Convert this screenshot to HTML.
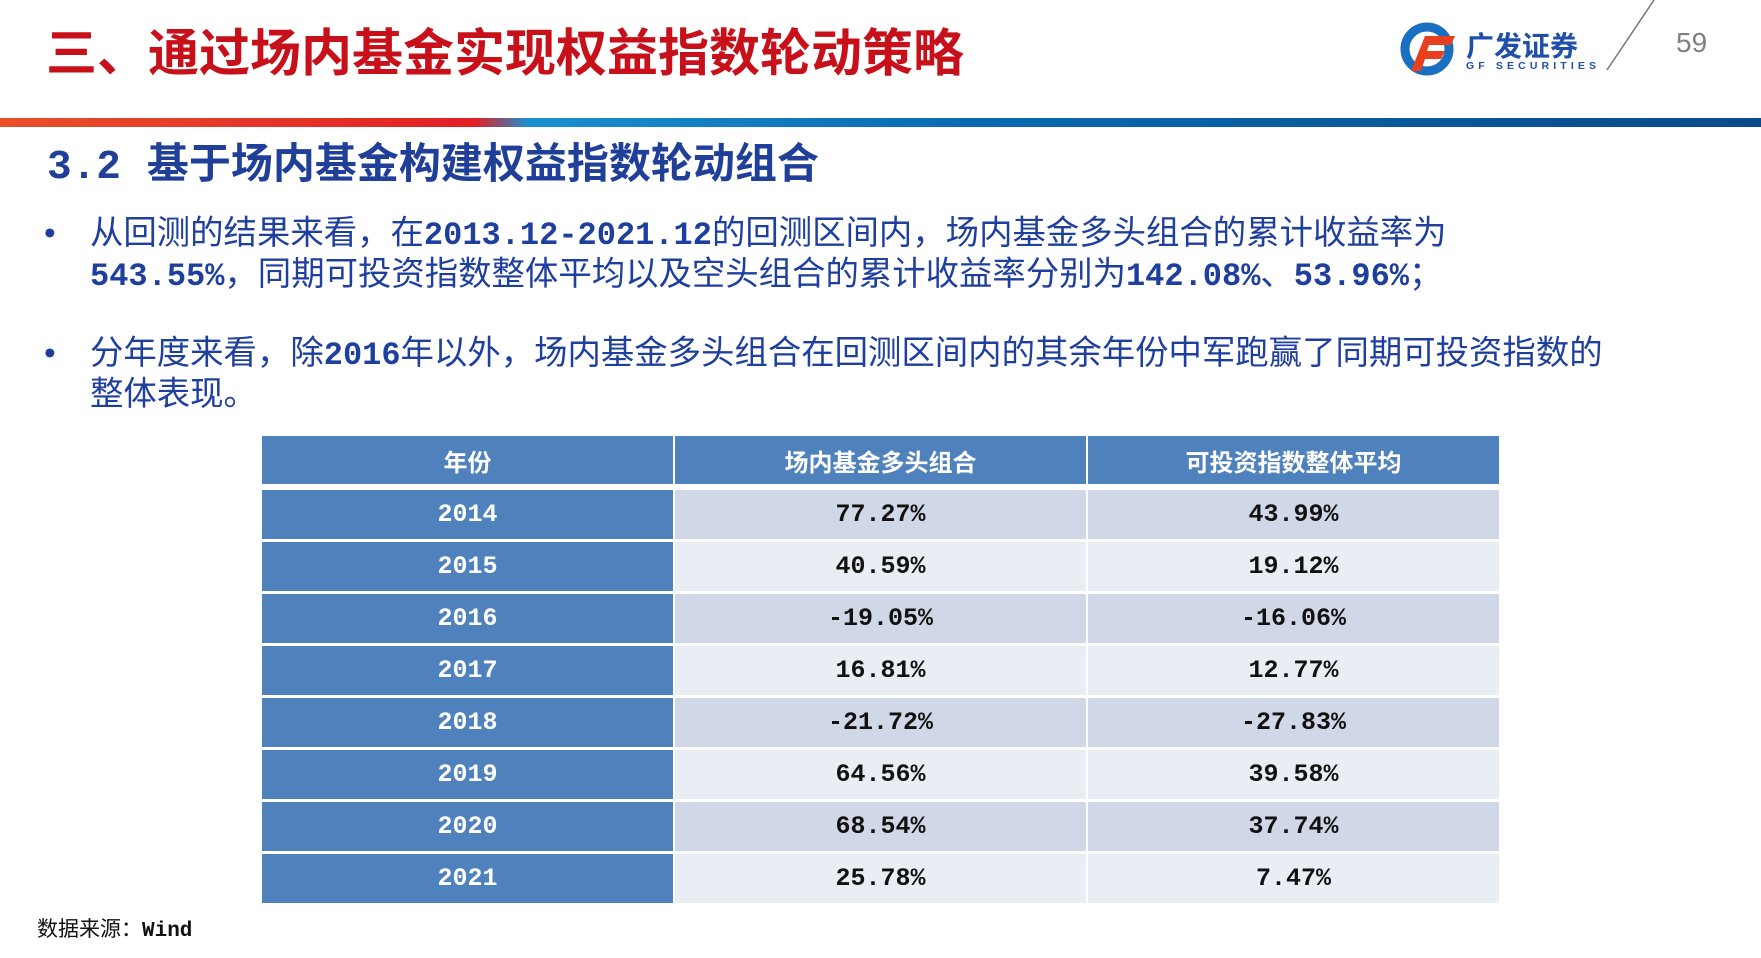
<!DOCTYPE html>
<html><head><meta charset="utf-8"><style>
body{margin:0;width:1761px;height:958px;background:#fff;position:relative;overflow:hidden;font-family:"Liberation Sans","Noto Sans CJK SC",sans-serif}
.a{position:absolute;white-space:nowrap}
.t{left:46px;top:22px;font-size:51px;font-weight:bold;color:#c8101a;line-height:64px}
.s{left:47px;top:138px;font-size:42px;font-weight:bold;color:#1f3f99;line-height:52px}
.s span{font-family:"Liberation Mono",monospace;font-size:41px;margin-right:26px}
.b{font-size:33.4px;color:#1f3f9f;line-height:39px}
.b b{font-family:"Liberation Mono","Noto Sans CJK SC",monospace;font-size:32px}
table{position:absolute;border-collapse:separate;border-spacing:2px 3px}
td{width:411px;height:49px;text-align:center;font-family:"Liberation Mono","Noto Sans CJK SC",monospace;font-weight:bold;font-size:25px;color:#111;padding:0}
th{width:411px;height:48px;background:#4f81bd;color:#fff;font-size:24px;font-family:"Liberation Sans","Noto Sans CJK SC",sans-serif;padding:0}
td.y{background:#4f81bd;color:#fff}
tr.o td{background:#d0d8e8} tr.e td{background:#e9edf4}
tr.o td.y,tr.e td.y{background:#4f81bd}
</style></head><body>
<div class="a t">三、通过场内基金实现权益指数轮动策略</div>
<svg class="a" style="left:0;top:0" width="1761" height="130">
<defs><linearGradient id="g" x1="0" x2="1"><stop offset="0" stop-color="#e8502a"/><stop offset="0.27" stop-color="#e21f26"/><stop offset="0.3" stop-color="#1a8fd0"/><stop offset="0.55" stop-color="#0a6ab0"/><stop offset="1" stop-color="#0a4a8a"/></linearGradient></defs>
<rect x="0" y="118" width="1761" height="9" fill="url(#g)"/>
<line x1="1654" y1="0" x2="1607" y2="70" stroke="#777" stroke-width="1.5"/>
<circle cx="1427" cy="49" r="22" fill="none" stroke="#1a6fc0" stroke-width="9"/>
<path d="M1425 36h30l-4 9h-22l-2 6h18l-4 8h-16l-4 12h-10z" fill="#e8401f"/>
<text x="1466" y="56" font-size="28" font-weight="bold" fill="#1f4fa8" font-family="Noto Sans CJK SC,sans-serif">广发证券</text>
<text x="1466" y="69" font-size="10.5" font-weight="bold" fill="#1f4fa8" font-family="Liberation Sans,sans-serif" textLength="130">GF SECURITIES</text>
<text x="1676" y="52" font-size="28" fill="#808080" font-family="Liberation Sans,sans-serif">59</text>
</svg>
<div class="a s"><span>3.2</span>基于场内基金构建权益指数轮动组合</div>
<div class="a b" style="left:44px;top:214px">•</div>
<div class="a b" style="left:90px;top:214px">从回测的结果来看，在<b>2013.12-2021.12</b>的回测区间内，场内基金多头组合的累计收益率为<br><b>543.55%</b>，同期可投资指数整体平均以及空头组合的累计收益率分别为<b>142.08%</b>、<b>53.96%</b>；</div>
<div class="a b" style="left:44px;top:334px">•</div>
<div class="a b" style="left:90px;top:334px">分年度来看，除<b>2016</b>年以外，场内基金多头组合在回测区间内的其余年份中军跑赢了同期可投资指数的<br>整体表现。</div>
<table style="left:260px;top:433px">
<tr><th>年份</th><th>场内基金多头组合</th><th>可投资指数整体平均</th></tr>
</table>
<table style="left:260px;top:487px">
<tr class="o"><td class="y">2014</td><td>77.27%</td><td>43.99%</td></tr>
<tr class="e"><td class="y">2015</td><td>40.59%</td><td>19.12%</td></tr>
<tr class="o"><td class="y">2016</td><td>-19.05%</td><td>-16.06%</td></tr>
<tr class="e"><td class="y">2017</td><td>16.81%</td><td>12.77%</td></tr>
<tr class="o"><td class="y">2018</td><td>-21.72%</td><td>-27.83%</td></tr>
<tr class="e"><td class="y">2019</td><td>64.56%</td><td>39.58%</td></tr>
<tr class="o"><td class="y">2020</td><td>68.54%</td><td>37.74%</td></tr>
<tr class="e"><td class="y">2021</td><td>25.78%</td><td>7.47%</td></tr>
</table>
<div class="a" style="left:37px;top:913px;font-size:21px;color:#111">数据来源：<b style="font-family:'Liberation Mono',monospace">Wind</b></div>
</body></html>
